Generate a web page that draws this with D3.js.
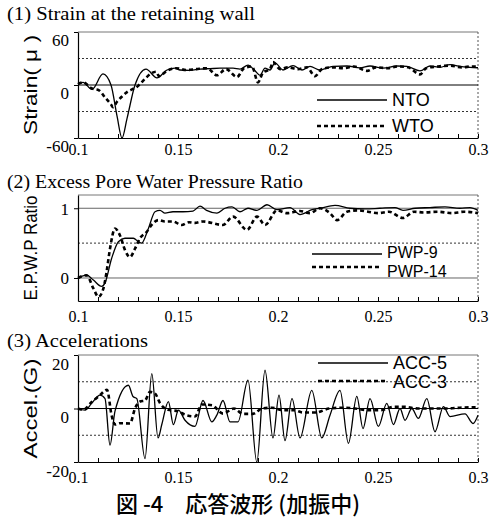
<!DOCTYPE html>
<html>
<head>
<meta charset="utf-8">
<script src="https://cdn.jsdelivr.net/npm/d3@7"></script>
<style>
body { margin: 0; background: #fff; }
svg { display: block; }
</style>
</head>
<body>
<div id="chart-area"></div>
<script>
/*
*    response waveforms, 3 stacked panels
*/

var width = 490
var height = 518

// time axis (s)
var xTicks = [0.1, 0.15, 0.2, 0.25, 0.3]

// (1) strain
var ntoT = [0.1, 0.1025, 0.107, 0.1125, 0.1165, 0.1195, 0.122, 0.1245, 0.1285, 0.134, 0.1395, 0.1445, 0.1485, 0.151, 0.156, 0.161, 0.166, 0.171, 0.1775, 0.181, 0.185, 0.1885, 0.191, 0.1935, 0.196, 0.1985, 0.2025, 0.2075, 0.212, 0.216, 0.221, 0.2275, 0.2345, 0.241, 0.246, 0.2525, 0.2595, 0.2645, 0.271, 0.276, 0.281, 0.286, 0.291, 0.296, 0.3]
var ntoV = [1, 3, -5, 12.5, 0, -35, -60, -38, 0, 18, 8, 17, 19, 17, 16.5, 18, 18.5, 19, 19, 18, 22.5, 16, 11, 19, 17, 25, 17, 22, 17, 21, 17, 21, 21.5, 19.5, 21.5, 19, 21.5, 21, 16, 21.5, 20, 23, 21, 20, 19.5]
var wtoT = [0.1, 0.1025, 0.107, 0.1105, 0.1135, 0.1165, 0.1175, 0.1195, 0.122, 0.1245, 0.127, 0.129, 0.1305, 0.1335, 0.1365, 0.139, 0.1405, 0.1445, 0.149, 0.154, 0.159, 0.1645, 0.1695, 0.174, 0.1795, 0.183, 0.187, 0.19, 0.1925, 0.196, 0.1975, 0.201, 0.205, 0.21, 0.2145, 0.2185, 0.222, 0.227, 0.233, 0.238, 0.2445, 0.249, 0.255, 0.26, 0.265, 0.271, 0.274, 0.28, 0.286, 0.292, 0.297, 0.3]
var wtoV = [1, 3, -4, -6, -14, -22, -25, -19, -13, -8, -5, -3, 0, 7, 13, 15, 10, 16, 19, 17, 18, 19, 11, 18, 9, 19, 21, 3, 14, 18, 26, 18, 20, 18, 20, 10, 18, 20, 19, 21, 16, 20, 19, 21, 20, 12, 19, 21, 22, 20, 21, 21]

// (2) excess pore water pressure ratio
var pwp9T = [0.1, 0.1043, 0.1077, 0.1118, 0.1135, 0.1168, 0.1202, 0.1235, 0.1277, 0.1302, 0.1318, 0.1352, 0.1385, 0.141, 0.1435, 0.1475, 0.1525, 0.1575, 0.161, 0.1643, 0.1695, 0.1735, 0.177, 0.181, 0.185, 0.1895, 0.1945, 0.1995, 0.206, 0.211, 0.217, 0.221, 0.2285, 0.236, 0.2435, 0.251, 0.2585, 0.2625, 0.2685, 0.276, 0.2835, 0.291, 0.296, 0.3]
var pwp9V = [0, 0.04, -0.03, -0.12, -0.07, 0.28, 0.52, 0.57, 0.57, 0.52, 0.5, 0.71, 0.95, 0.97, 0.93, 0.95, 0.95, 0.96, 1.03, 0.97, 0.93, 1.0, 1.02, 0.95, 1.0, 0.97, 1.05, 0.98, 1.01, 0.91, 0.98, 1.0, 1.04, 1.0, 0.99, 1.0, 1.01, 0.97, 1.0, 1.01, 1.02, 1.0, 1.01, 0.97]
var pwp14T = [0.1, 0.1043, 0.1077, 0.1102, 0.1127, 0.1143, 0.116, 0.1185, 0.121, 0.1235, 0.126, 0.1285, 0.131, 0.1343, 0.1368, 0.1402, 0.1435, 0.1475, 0.1518, 0.1555, 0.1585, 0.1625, 0.1725, 0.1775, 0.1845, 0.1895, 0.1935, 0.1995, 0.2045, 0.211, 0.216, 0.221, 0.226, 0.2295, 0.2345, 0.24, 0.245, 0.25, 0.2555, 0.2625, 0.268, 0.273, 0.28, 0.287, 0.293, 0.3]
var pwp14V = [0, 0.04, -0.15, -0.27, -0.15, 0.09, 0.42, 0.71, 0.61, 0.4, 0.3, 0.42, 0.57, 0.66, 0.76, 0.83, 0.81, 0.81, 0.76, 0.8, 0.79, 0.81, 0.76, 0.88, 0.69, 0.88, 0.76, 0.97, 0.93, 0.96, 0.93, 1.0, 0.93, 0.83, 0.95, 0.97, 0.95, 0.93, 0.95, 0.86, 0.95, 0.94, 0.95, 0.93, 0.95, 0.93]

// (3) accelerations
var acc5T = [0.1, 0.1035, 0.1069, 0.111, 0.1135, 0.116, 0.1185, 0.1252, 0.1275, 0.1294, 0.1335, 0.1369, 0.14, 0.1419, 0.1452, 0.1477, 0.1502, 0.1535, 0.1585, 0.1625, 0.1669, 0.1694, 0.1725, 0.176, 0.18, 0.185, 0.1894, 0.1935, 0.1975, 0.2005, 0.2035, 0.207, 0.211, 0.2169, 0.2219, 0.226, 0.231, 0.2352, 0.2394, 0.2425, 0.246, 0.2502, 0.2544, 0.2577, 0.261, 0.2635, 0.2669, 0.2702, 0.2744, 0.2785, 0.2827, 0.286, 0.2935, 0.2975, 0.3]
var acc5V = [0, -0.6, 2, 5, 3.7, -13.7, -1, 8.7, 4.5, 3.7, -18.7, 13, -11, -6, 2.6, -6, -0.6, -4.4, -6.7, 3, -5, -2.5, 3, -5, -5, 10.6, -20, 14.3, -11, 5, -12, 3.7, -11, 6.8, -11, -2.5, 6.8, -13, 4.5, -7.5, 3.7, -6.7, 1.9, -6, 0, -4.4, 0, -3.7, 3.7, -8.7, 0.7, -3, -2, -5.6, -2.5]
var acc3T = [0.1, 0.1025, 0.107, 0.111, 0.1145, 0.1168, 0.1185, 0.121, 0.126, 0.1285, 0.131, 0.1335, 0.136, 0.1385, 0.141, 0.145, 0.15, 0.154, 0.1585, 0.162, 0.167, 0.1725, 0.178, 0.1825, 0.1875, 0.192, 0.197, 0.2025, 0.208, 0.2125, 0.219, 0.2255, 0.232, 0.2385, 0.2445, 0.2515, 0.258, 0.2635, 0.27, 0.277, 0.284, 0.291, 0.3]
var acc3V = [0, -0.5, 2.5, 5, 7, -2.5, -6, -5.5, -5.6, 0, 2.6, 3, 6.2, 5.6, 2, -0.5, -1, -2.5, -3, 1.5, 1.2, -1.9, 0, -2, -2, 0, 0.3, -0.6, -0.6, -1.5, -1.5, 0, 0.3, 0, -0.6, -0.6, 0.6, 0.6, 0, 0, 0, 0.3, 0.5]

var zip = (t, v) => t.map((d, i) => ({t: d, v: v[i]}))

var panels = [
	{title: "(1) Strain at the retaining wall", titleY: 20, titleLen: 248, yLabel: "Strain( \u03bc )", labelLen: 100,
	 domain: [-60, 60], range: [138, 32], ticks: [-60, 0, 60], tickDy: 7, xPad: 6,
	 solidGrid: [0], dotGrid: [-30, 30], gridDark: true,
	 series: [{name: "NTO", data: zip(ntoT, ntoV), dash: false}, {name: "WTO", data: zip(wtoT, wtoV), dash: true}],
	 legend: {x: 317, line: [100, 126], text: [100, 126], size: 18}},
	{title: "(2) Excess Pore Water Pressure Ratio", titleY: 188, titleLen: 296, yLabel: "E.P.W.P Ratio", labelLen: 105,
	 domain: [-0.33, 1.19], range: [301, 195], ticks: [0, 1], tickDy: 0, xPad: 10,
	 solidGrid: [0, 1], dotGrid: [0.5], gridDark: false,
	 series: [{name: "PWP-9", data: zip(pwp9T, pwp9V), dash: false}, {name: "PWP-14", data: zip(pwp14T, pwp14V), dash: true}],
	 legend: {x: 312, line: [254, 267], text: [252, 271], size: 16}},
	{title: "(3)  Accelerations", titleY: 347, titleLen: 141, yLabel: "Accel.(G)", labelLen: 100,
	 domain: [-20, 20], range: [462, 355], ticks: [-20, 0, 20], tickDy: 8, xPad: 10,
	 solidGrid: [0], dotGrid: [-10, 10], gridDark: true,
	 series: [{name: "ACC-5", data: zip(acc5T, acc5V), dash: false}, {name: "ACC-3", data: zip(acc3T, acc3V), dash: true}],
	 legend: {x: 318, line: [363, 381], text: [363, 382], size: 18}}
]

var svg = d3.select("#chart-area").append("svg")
.attr("width", width)
.attr("height", height)
.style("background", "#fff")

var x = d3.scaleLinear()
.domain([0.1, 0.3])
.range([78, 478])

var minor = d3.range(0, 21).map(i => 0.1 + i * 0.01)
var serif = "'Liberation Serif', 'Times New Roman', serif"
var sans = "'Liberation Sans', Arial, sans-serif"

panels.forEach(p => {
	var y = d3.scaleLinear()
	.domain(p.domain)
	.range(p.range)

	var g = svg.append("g")

	// title
	g.append("text")
	.attr("x", 7)
	.attr("y", p.titleY)
	.attr("font-family", serif)
	.attr("font-size", "18px")
	.attr("textLength", p.titleLen)
	.attr("lengthAdjust", "spacingAndGlyphs")
	.text(p.title)

	// frame: top and right
	g.append("line")
	.attr("x1", x(0.1)).attr("x2", x(0.3))
	.attr("y1", p.range[1]).attr("y2", p.range[1])
	.attr("stroke", "#777").attr("stroke-width", 1)
	g.append("line")
	.attr("x1", x(0.3)).attr("x2", x(0.3))
	.attr("y1", p.range[1]).attr("y2", p.range[0])
	.attr("stroke", "#555").attr("stroke-dasharray", "2,2")

	// grid
	g.selectAll(".dot-grid").data(p.dotGrid).enter().append("line")
	.attr("x1", x(0.1)).attr("x2", x(0.3))
	.attr("y1", d => y(d)).attr("y2", d => y(d))
	.attr("stroke", "#333").attr("stroke-dasharray", "2,2")
	g.selectAll(".solid-grid").data(p.solidGrid).enter().append("line")
	.attr("x1", x(0.1)).attr("x2", x(0.3))
	.attr("y1", d => y(d)).attr("y2", d => y(d))
	.attr("stroke", p.gridDark ? "#000" : "#666").attr("stroke-width", 1)

	// x axis with minor ticks inside
	var xAxisCall = d3.axisBottom(x)
	.tickValues(minor)
	.tickSizeInner(-4)
	.tickSizeOuter(0)
	.tickPadding(p.xPad)
	.tickFormat(d => {
		var m = xTicks.find(t => Math.abs(t - d) < 1e-6)
		return m === undefined ? "" : String(m)
	})
	var xg = g.append("g")
	.attr("transform", "translate(0," + p.range[0] + ")")
	.call(xAxisCall)
	xg.selectAll("text").attr("font-family", serif).attr("font-size", "16px").attr("fill", "#000")
	xg.select(".domain").attr("stroke", "#000")

	// y axis
	var yAxisCall = d3.axisLeft(y)
	.tickValues(p.ticks)
	.tickSizeInner(4)
	.tickSizeOuter(0)
	.tickPadding(5)
	.tickFormat(d => String(d))
	var yg = g.append("g")
	.attr("transform", "translate(" + x(0.1) + ",0)")
	.call(yAxisCall)
	yg.selectAll("text")
	.attr("font-family", serif).attr("font-size", "17px").attr("fill", "#000")
	.attr("dy", p.tickDy + 6)
	yg.select(".domain").attr("stroke", "#000").attr("stroke-width", 1.2)

	// y label
	var cy = (p.range[0] + p.range[1]) / 2
	g.append("text")
	.attr("transform", "translate(30," + cy + ") rotate(-90)")
	.attr("text-anchor", "middle")
	.attr("dy", "0.36em")
	.attr("font-family", sans)
	.attr("font-size", "19px")
	.attr("textLength", p.labelLen)
	.attr("lengthAdjust", "spacingAndGlyphs")
	.text(p.yLabel)

	// series
	var line = d3.line()
	.x(d => x(d.t))
	.y(d => y(d.v))
	.curve(d3.curveMonotoneX)

	p.series.slice().reverse().forEach(s => {
		g.append("path")
		.datum(s.data)
		.attr("fill", "none")
		.attr("stroke", "#000")
		.attr("stroke-width", s.dash ? 2.6 : 1.3)
		.attr("stroke-dasharray", s.dash ? "4,3" : null)
		.attr("d", line)
	})

	// legend
	p.series.forEach((s, i) => {
		g.append("line")
		.attr("x1", p.legend.x).attr("x2", p.legend.x + 70)
		.attr("y1", p.legend.line[i]).attr("y2", p.legend.line[i])
		.attr("stroke", "#000")
		.attr("stroke-width", s.dash ? 2.6 : 1.3)
		.attr("stroke-dasharray", s.dash ? "4,3" : null)
		g.append("text")
		.attr("x", p.legend.x + 75)
		.attr("y", p.legend.text[i])
		.attr("dy", "0.36em")
		.attr("font-family", sans)
		.attr("font-size", p.legend.size + "px")
		.text(s.name)
	})
})

// caption
svg.append("text")
.attr("x", 116)
.attr("y", 512)
.attr("font-family", "'Noto Sans CJK JP', sans-serif")
.attr("font-size", "22px")
.attr("font-weight", 500)
.text("図 -4\u3000応答波形 (加振中)")
</script>
</body>
</html>
